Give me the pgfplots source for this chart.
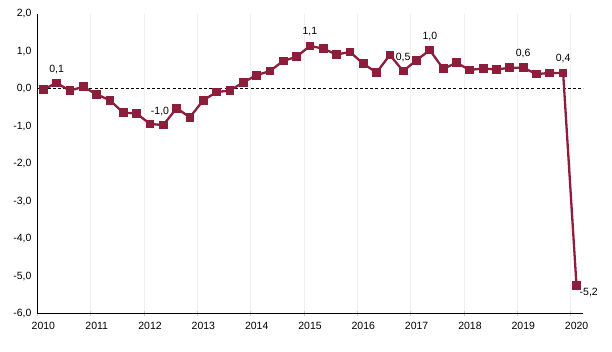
\documentclass[border=0pt]{standalone}
\usepackage{pgfplots}
\pgfplotsset{compat=1.18}
\usepackage{fontspec}
\setmainfont{Liberation Sans}
\definecolor{wine}{RGB}{140,30,60}
\begin{document}
\begin{tikzpicture}
\useasboundingbox (0,0) rectangle (612pt,351pt);
\begin{axis}[
  at={(37.4pt,37.3pt)}, anchor=south west,
  scale only axis, width=546pt, height=300pt,
  xmin=2010, xmax=2020.24, ymin=-6, ymax=2,
  axis lines*=left,
  axis line style={black, line width=1pt},
  xtick={2010,2011,2012,2013,2014,2015,2016,2017,2018,2019,2020},
  xticklabels={2010,2011,2012,2013,2014,2015,2016,2017,2018,2019,2020},
  xticklabel style={xshift=6pt, yshift=-2pt},
  ytick={-6,-5,-4,-3,-2,-1,0,1,2},
  yticklabel style={/pgf/number format/.cd, use comma, fixed, fixed zerofill, precision=1, assume math mode=true},
  ytick style={draw=none},
  x tick style={gray!40, line width=0.6pt},
  tick align=center, major tick length=5pt,
  xmajorgrids, grid style={gray!12, line width=0.6pt},
  font=\fontsize{10.5}{12}\selectfont,
  clip=false,
]
\addplot[black, dashed, line width=1.1pt, dash pattern=on 3pt off 2.2pt] coordinates {(2010,0) (2020.24,0)};
\addplot[wine, line width=2.3pt, mark=square*, mark size=3.2pt, mark options={solid}] coordinates {
(2010.11,-0.02) (2010.36,0.15) (2010.61,-0.05) (2010.86,0.05)
(2011.11,-0.15) (2011.36,-0.31) (2011.61,-0.64) (2011.86,-0.66)
(2012.11,-0.94) (2012.36,-0.97) (2012.61,-0.52) (2012.86,-0.76)
(2013.11,-0.31) (2013.36,-0.09) (2013.61,-0.05) (2013.86,0.17)
(2014.11,0.36) (2014.36,0.47) (2014.61,0.74) (2014.86,0.85)
(2015.11,1.14) (2015.36,1.07) (2015.61,0.91) (2015.86,0.98)
(2016.11,0.67) (2016.36,0.43) (2016.61,0.90) (2016.86,0.47)
(2017.11,0.76) (2017.36,1.03) (2017.61,0.53) (2017.86,0.69)
(2018.11,0.50) (2018.36,0.54) (2018.61,0.51) (2018.86,0.56)
(2019.11,0.56) (2019.36,0.39) (2019.61,0.42) (2019.86,0.42)
(2020.11,-5.24)
};
\addplot[draw=none, mark=none, point meta=explicit symbolic,
  nodes near coords, nodes near coords style={anchor=south, inner sep=1pt, yshift=8.5pt, black}]
  table[meta=lab] {
x y lab
2010.36 0.15 0,1
2012.30 -0.97 -1,0
2015.11 1.14 1,1
2016.86 0.47 0,5
2017.36 1.03 1,0
2019.11 0.56 0,6
2019.86 0.42 0,4
};
\addplot[draw=none, mark=none, point meta=explicit symbolic,
  nodes near coords, nodes near coords style={anchor=north west, inner sep=1pt, xshift=2pt, yshift=-2pt, black}]
  table[meta=lab] {
x y lab
2020.11 -5.24 -5,2
};
\end{axis}
\end{tikzpicture}
\end{document}
